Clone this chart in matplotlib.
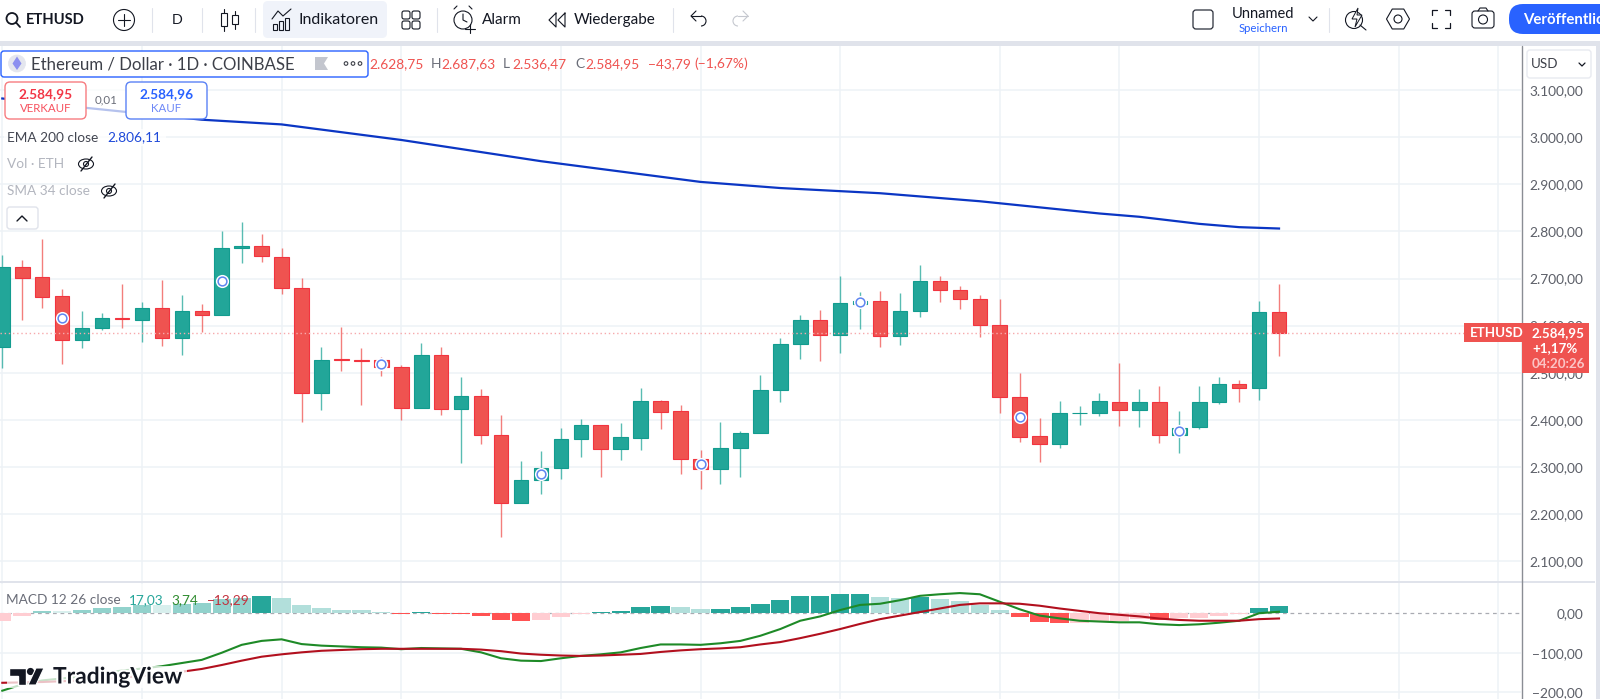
import numpy as np
import matplotlib
matplotlib.use("Agg")
import matplotlib.pyplot as plt
from matplotlib.patches import Rectangle, FancyBboxPatch, Circle, Polygon, Ellipse, Arc
import matplotlib.patheffects as pe

plt.rcParams["font.family"] = ["Lato", "DejaVu Sans"]

# candles
opens = [2555,2724,2703,2663,2570,2594,2616,2611,2638,2574,2631,2623,2765,2769,2746,2680,2458,2529,2528,2527,2513,
         2426,2537,2423,2450,2368,2224,2273,2297,2360,2389,2339,2362,2440,2418,2317,2295,2341,2373,2464,2561,2613,
         2580,2646,2653,2578,2632,2694,2675,2657,2602,2448,2365,2349,2414,2415,2439,2422,2439,2368,2384,2439,2476,2467,2628.75]
highs = [2750,2740,2783,2678,2632,2627,2689,2651,2697,2666,2646,2801,2820,2795,2765,2702,2555,2598,2552,2534,2517,
         2564,2554,2491,2465,2410,2312,2335,2382,2401,2389,2393,2467,2442,2431,2336,2395,2376,2496,2573,2623,2633,
         2705,2672,2674,2669,2729,2705,2684,2664,2657,2500,2403,2441,2429,2458,2520,2465,2473,2418,2472,2491,2484,2653,2687.63]
lows = [2511,2612,2637,2518,2552,2590,2596,2566,2556,2538,2586,2623,2734,2736,2668,2395,2421,2504,2432,2494,2400,
        2425,2411,2308,2349,2152,2224,2242,2274,2321,2278,2316,2337,2380,2285,2253,2264,2278,2373,2437,2529,2525,
        2541,2593,2555,2559,2618,2651,2635,2575,2415,2353,2311,2340,2390,2408,2387,2386,2351,2330,2380,2434,2438,2443,2536.47]
closes = [2724,2702,2661,2570,2595,2616,2614,2637,2574,2631,2623,2765,2769,2748,2680,2458,2528,2528,2526,2512,2426,
          2538,2423,2450,2368,2224,2273,2298,2360,2389,2339,2363,2440,2417,2317,2295,2341,2373,2464,2561,2613,2580,
          2648,2653,2578,2632,2694,2675,2656,2602,2448,2364,2349,2414,2415,2440,2422,2439,2368,2383,2439,2476,2467,2629,2584.95]

ema_idx = [0,4,10,14,20,27,35,39,44,49,55,57,60,62,64]
ema_vals = [3082,3063,3037,3027,2994,2949,2905,2892,2881,2864,2838,2831,2816,2809,2806.11]

hist = [-19,-6,6,5,9,13.5,17,22,21,24,26,35,38,44,39,21,13.5,9,7,4,-1,4,-1,-1.5,-6,-17,-19,-17,-9,-1,2.5,6,16,18.5,
        16,10.5,11,16,23,34,43,43,48,48,41,39,40,36,32,22,7,-10,-21,-24,-23.5,-19,-18.5,-15,-17,-13,-11,-7,-1,13.5,17.03]
macd_line = [-196,-180,-170,-165,-160,-152,-145,-140,-134,-126,-118,-100,-80,-70,-66,-78,-82,-84,-86,-87,-91,-88,-89,-90,
             -99,-114,-120,-121,-114,-108,-104,-99,-88,-79,-79,-80,-76,-70,-57,-40,-19,-8,8,21,24,33,44,48,51,48,29,10,
             -6,-13,-19,-21,-23,-23,-28,-30,-28,-24,-19,0,3.74]
signal_line = [-176,-175,-174,-172,-170,-167,-163,-158,-153,-148,-141,-131,-120,-110,-104,-99,-95,-93,-91,-90,-90,-90,-90,
               -90,-92,-96,-102,-105,-107,-108,-107,-105,-103,-98,-94,-91,-89,-86,-79,-73,-63,-52,-40,-27,-15,-6,3,12,21,
               25,25,24,19,12,6,0,-4,-8,-13.5,-17,-19,-19,-19,-15,-13.29]

price_ticks = [2100,2200,2300,2400,2500,2600,2700,2800,2900,3000,3100]
macd_ticks = [0,-100,-200]
grid_idx = [0,7,14,20,28,35,42,50,56,63,70,75]
marker_idx = [3,11,19,27,35,43,51,59]
last_price = 2584.95


def de_num(v):
    s = "{:,.2f}".format(abs(v)).replace(",", "X").replace(".", ",").replace("X", ".")
    return ("\u2212" + s) if v < 0 else s


RED = "#EF5350"
GREEN = "#22A699"
GRID = "#EEF2F6"
TXT = "#131722"
GRAY = "#6A6D78"

W, H = 1600, 699
fig = plt.figure(figsize=(W / 100, H / 100), dpi=100, facecolor="white")


def px_axes(x0, y0, x1, y1):
    return fig.add_axes([x0 / W, 1 - y1 / H, (x1 - x0) / W, (y1 - y0) / H])


xlim = (-0.115, 76.13)

# main price pane
ax = px_axes(0, 45, 1521, 581)
ax.set_xlim(xlim)
ax.set_ylim(2058.2, 3195.5)
x = np.arange(len(opens))
o = np.array(opens)
c = np.array(closes)
up = c >= o
ax.vlines(x[up], np.array(lows)[up], np.array(highs)[up], color=GREEN, lw=1, alpha=0.75, zorder=3)
ax.vlines(x[~up], np.array(lows)[~up], np.array(highs)[~up], color=RED, lw=1, alpha=0.75, zorder=3)
ax.bar(x[up], (c - o)[up], bottom=o[up], width=0.73, color=GREEN, edgecolor="#129C8F", lw=0.8, zorder=4)
ax.bar(x[~up], (c - o)[~up], bottom=o[~up], width=0.73, color=RED, edgecolor="#F2343F", lw=0.8, zorder=4)
ax.plot(ema_idx, ema_vals, color="#0B36C4", lw=1.6, zorder=5)
ax.axhline(last_price, color="#F7A9AC", lw=1, ls=(0, (1, 2)), zorder=6)

mx = np.array(marker_idx)
my = (o[mx] + c[mx]) / 2
ax.plot(mx, my, "o", ms=9.5, color="white", mew=0, zorder=7)
ax.plot(mx, my, "o", ms=6.3, mfc="white", mec="#5F85F0", mew=1.1, zorder=8)

ax.set_yticks(price_ticks)
ax.set_yticklabels([de_num(t) for t in price_ticks])
ax.set_xticks(grid_idx)
ax.tick_params(axis="x", length=0, labelbottom=False)

# macd pane
ax2 = px_axes(0, 582, 1521, 699)
ax2.set_xlim(xlim)
ax2.set_ylim(-217, 79)
colors = []
for i, h in enumerate(hist):
    prev = hist[i - 1] if i else h
    if h >= 0:
        colors.append("#26A69A" if h >= prev else "#B2DFDB")
    else:
        colors.append("#FF5252" if h < prev else "#FFCDD2")
ax2.axhline(0, color="#A9ABB2", lw=0.9, ls=(0, (3, 3)), zorder=1)
ax2.bar(x, hist, width=0.92, color=colors, zorder=2)
ax2.plot(x, macd_line, color="#1E8A27", lw=1.5, zorder=4)
ax2.plot(x, signal_line, color="#B2101E", lw=1.5, zorder=5)
ax2.set_yticks(macd_ticks)
ax2.set_yticklabels([de_num(t) for t in macd_ticks])
ax2.set_xticks(grid_idx)
ax2.tick_params(axis="x", length=0, labelbottom=False)

for a in (ax, ax2):
    for s in a.spines.values():
        s.set_visible(False)
    a.grid(True, color=GRID, lw=1.1, zorder=0)
    a.set_axisbelow(True)
    a.yaxis.tick_right()
    a.tick_params(axis="y", length=0, pad=44.6, labelsize=9.9, labelcolor="#5C5F68")
    for lab in a.get_yticklabels():
        lab.set_ha("right")
ax2.yaxis.get_gridlines()[0].set_visible(False)

# everything else (toolbar, legend, tags) on a pixel overlay
ui = fig.add_axes([0, 0, 1, 1], zorder=10)
ui.set_xlim(0, W)
ui.set_ylim(H, 0)
ui.axis("off")
ui.patch.set_alpha(0)


def rrect(x0, y0, x1, y1, r=4, fc="white", ec="none", lw=1, alpha=None, z=2):
    p = FancyBboxPatch((x0 + r, y0 + r), x1 - x0 - 2 * r, y1 - y0 - 2 * r, boxstyle="round,pad=%f,rounding_size=%f" % (r, r),
                       fc=fc, ec=ec, lw=lw, alpha=alpha, zorder=z)
    ui.add_patch(p)
    return p


def line(xs, ys, color=TXT, lw=0.8, z=5):
    ui.plot(xs, ys, color=color, lw=lw, zorder=z, solid_capstyle="round")


def txt(x, y, s, size=9.6, color=TXT, ha="left", weight="normal", z=6, **kw):
    return ui.text(x, y, s, fontsize=size, color=color, ha=ha, va="center", fontweight=weight, zorder=z, **kw)


def ring(x, y, r, color=TXT, lw=0.8, fc="none", z=5):
    ui.add_patch(Circle((x, y), r, fc=fc, ec=color, lw=lw, zorder=z))


def eye_off(ex, ey):
    ui.add_patch(Ellipse((ex, ey), 15, 10, fc="none", ec=TXT, lw=0.8, zorder=5))
    ring(ex, ey, 2.5)
    line([ex - 5, ex + 6], [ey + 7, ey - 7], lw=1)


# frame
ui.add_patch(Rectangle((0, 0), W, 41, fc="white", ec="none", zorder=1))
ui.add_patch(Rectangle((0, 41), W, 4.5, fc="#E0E3EB", ec="none", zorder=1))
ui.add_patch(Rectangle((1595.5, 41), 5, H, fc="#E0E3EB", ec="none", zorder=1))
ui.add_patch(Rectangle((0, 581), 1595, 1.5, fc="#E0E3EB", ec="none", zorder=1))
line([1521.5, 1521.5], [46, H], color="#8A8D94", lw=1, z=1)

# toolbar left
ring(12, 18.5, 5.5, lw=1.3)
line([16, 20], [22.5, 27], lw=1.3)
txt(26, 20, "ETHUSD", size=10.6, weight="bold")
ring(124, 20, 10.5)
line([118, 130], [20, 20])
line([124, 124], [14, 26])
for sx in (152, 202, 255, 437, 673):
    line([sx, sx], [8, 32], color="#E0E3EB", lw=0.8)
txt(177, 20, "D", size=10.3, ha="center")
line([224, 224], [9, 31])
ui.add_patch(Rectangle((221, 13), 6, 13, fc="white", ec=TXT, lw=0.8, zorder=5))
line([235, 235], [11, 29])
ui.add_patch(Rectangle((232, 15), 6, 9, fc="white", ec=TXT, lw=0.8, zorder=5))
rrect(263, 1, 387, 38, r=5, fc="#F0F3FA", z=2)
for bx, by in ((273, 24), (279, 21), (285, 18)):
    ui.add_patch(Rectangle((bx, by), 4, 30 - by, fc="none", ec=TXT, lw=0.8, zorder=5))
line([272, 278, 283, 291], [19, 11, 16, 9])
txt(299, 20, "Indikatoren", size=11.5)
for gx in (402, 412):
    for gy in (11, 21):
        rrect(gx, gy, gx + 8, gy + 8, r=2, fc="none", ec=TXT, lw=0.8, z=5)
ring(463, 20, 9)
line([463, 463, 467], [14, 20, 22])
line([454, 457], [9, 6])
line([472, 469], [9, 6])
line([470, 470], [24, 33])
line([465, 475], [29, 29])
txt(482, 20, "Alarm", size=11)
line([556, 549, 556, 556], [13, 20, 27, 13])
line([565, 558, 565, 565], [13, 20, 27, 13])
txt(574, 20, "Wiedergabe", size=11)
# undo and redo arrows
line([691, 701], [16, 16])
line([696, 691, 696], [11, 16, 21])
ui.add_patch(Arc((701, 21), 10, 10, theta1=-90, theta2=90, ec=TXT, lw=0.8, zorder=5))
line([748, 738], [16, 16], color="#C5C8CF")
line([743, 748, 743], [11, 16, 21], color="#C5C8CF")
ui.add_patch(Arc((738, 21), 10, 10, theta1=90, theta2=270, ec="#C5C8CF", lw=0.8, zorder=5))

# toolbar right
rrect(1193, 10, 1213, 29, r=3, fc="white", ec="#2A2E39", lw=0.9, z=5)
txt(1263, 14, "Unnamed", size=10.5, ha="center")
txt(1263, 28, "Speichern", size=8.2, ha="center", color="#2962FF")
line([1309, 1313, 1317], [17, 21, 17])
line([1329, 1329], [8, 32], color="#E0E3EB", lw=0.8)
ring(1354, 20, 8.5)
line([1360, 1366], [25, 30])
ui.add_patch(Polygon([(1358, 8), (1352, 19), (1357, 19), (1355, 27), (1362, 15), (1357, 15)], closed=True, fc="white", ec=TXT, lw=0.7, zorder=6))
ang = np.deg2rad(np.arange(0, 360, 60))
ui.add_patch(Polygon(np.c_[1398 + 11.5 * np.cos(ang), 19 + 11.5 * np.sin(ang)], closed=True, fc="none", ec=TXT, lw=0.8, zorder=5))
ring(1398, 19, 4)
for sx, sy in ((-1, -1), (1, -1), (-1, 1), (1, 1)):
    line([1441 + sx * 9, 1441 + sx * 9, 1441 + sx * 4], [19 + sy * 4, 19 + sy * 9, 19 + sy * 9], lw=0.9)
rrect(1472, 11, 1494, 28, r=3, fc="white", ec=TXT, lw=0.8, z=5)
line([1478, 1480, 1486, 1488], [11, 8, 8, 11])
ring(1483, 19.5, 4.5, z=6)
rrect(1509, 4, 1640, 34, r=14, fc="#2962FF", z=2)
txt(1523, 20, "Veröffentlichen", size=10.8, color="white", weight="bold", clip_on=True)

# symbol legend
rrect(1, 51, 368, 77, r=3, fc="white", ec="#2962FF", lw=1, z=3)
ring(17, 63.5, 8.5, color="#E4E6EE", fc="#E4E6EE", lw=0.5)
ui.add_patch(Polygon([(17, 56.5), (21.5, 63.5), (17, 70), (12.5, 63.5)], closed=True, fc="#8C8FF0", ec="none", zorder=6))
txt(31, 64, "Ethereum / Dollar · 1D · COINBASE", size=12.1, color="#3D4049")
ui.add_patch(Polygon([(315, 57), (328, 57), (324, 63.5), (328, 70), (315, 70)], closed=True, fc="#C3C6CE", ec="none", zorder=5))
for dx in (346, 353, 360):
    ring(dx, 63.5, 1.8, color="#3D4049", lw=0.8)

ohlc = [(369, "2.628,75", RED), (431, "H", GRAY), (441, "2.687,63", RED), (503, "L", GRAY), (512, "2.536,47", RED),
        (575, "C", GRAY), (585, "2.584,95", RED), (648, "\u221243,79", RED), (694, "(\u22121,67%)", RED)]
for ox, s, col in ohlc:
    txt(ox, 64, s, size=9.9, color=col)

# buy and sell buttons, the ema fades behind them
ui.add_patch(Rectangle((86, 84), 40, 33, fc="white", ec="none", alpha=0.7, zorder=2))
rrect(5, 82, 86, 119, r=5, fc="white", ec="#F77C80", lw=1, z=3)
rrect(126, 82, 207, 119, r=5, fc="white", ec="#5B82F5", lw=1, z=3)
txt(46, 94, "2.584,95", size=9.8, color="#F23645", weight="bold", ha="center")
txt(46, 109, "VERKAUF", size=8.3, color="#F7525F", ha="center")
txt(106, 100, "0,01", size=8.3, color=GRAY, ha="center")
txt(166.5, 94, "2.584,96", size=9.8, color="#2962FF", weight="bold", ha="center")
txt(166.5, 109, "KAUF", size=8.3, color="#6E88F7", ha="center")

# indicator legend
ui.add_patch(Rectangle((4, 129), 162, 17, fc="white", ec="none", alpha=0.75, zorder=2))
txt(7, 137.5, "EMA 200 close", size=9.8, color="#434651")
txt(107, 137.5, "2.806,11", size=9.8, color="#1E49D9")
txt(7, 164, "Vol · ETH", size=9.8, color="#B2B5BE")
txt(7, 191, "SMA 34 close", size=9.8, color="#B2B5BE")
eye_off(86, 164)
eye_off(109, 191)
rrect(7, 207, 38, 229, r=3, fc="white", ec="#E0E3EB", lw=1, z=3)
line([17, 22, 27], [221, 216, 221], lw=1)

# usd box
rrect(1527, 50, 1591, 78, r=3, fc="white", ec="#E8EAF0", lw=1, z=3)
txt(1531, 64.5, "USD", size=9.6, color="#3D4049")
line([1579, 1582, 1585], [63, 66, 63], lw=0.9)

# last price tag
ui.add_patch(Rectangle((1464, 323), 58, 19, fc=RED, ec="none", zorder=3))
ui.add_patch(Rectangle((1522, 323), 67, 50, fc=RED, ec="none", zorder=3))
txt(1470, 333, "ETHUSD", size=9.6, color="white", weight="bold")
txt(1532, 333, "2.584,95", size=9.6, color="white", weight="bold")
txt(1532, 348.5, "+1,17%", size=9.6, color="white", weight="bold")
txt(1532, 364, "04:20:26", size=9.6, color="#FBC4C5", weight="bold")

# macd legend
ui.add_patch(Rectangle((0, 584), 251.5, 29, fc="white", ec="none", alpha=0.5, zorder=2))
txt(6, 600.5, "MACD 12 26 close", size=9.8, color="#6A6D78")
txt(129, 600.5, "17,03", size=9.8, color="#26A69A")
txt(171, 600.5, "3,74", size=9.8, color="#2E8B2E")
txt(207, 600.5, "\u221213,29", size=9.8, color="#C2303C")

# logo
halo = [pe.withStroke(linewidth=3, foreground="white")]
ui.add_patch(Rectangle((7, 666), 180, 22, fc="white", ec="none", alpha=0.75, zorder=6))
ui.add_patch(Polygon([(9, 668), (26, 668), (26, 685), (18, 685), (18, 676), (9, 676)], closed=True, fc=TXT, ec="white", lw=1, zorder=7))
ring(30.5, 671.5, 3.6, color=TXT, fc=TXT, lw=0, z=7)
ui.add_patch(Polygon([(36, 668), (44, 668), (36, 685), (28, 685)], closed=True, fc=TXT, ec="white", lw=0.8, zorder=7))
t = ui.text(53, 677, "TradingView", fontsize=16.4, color=TXT, va="center", ha="left", fontweight="bold", zorder=7)
t.set_path_effects(halo)

fig.savefig("out.png", dpi=100)
